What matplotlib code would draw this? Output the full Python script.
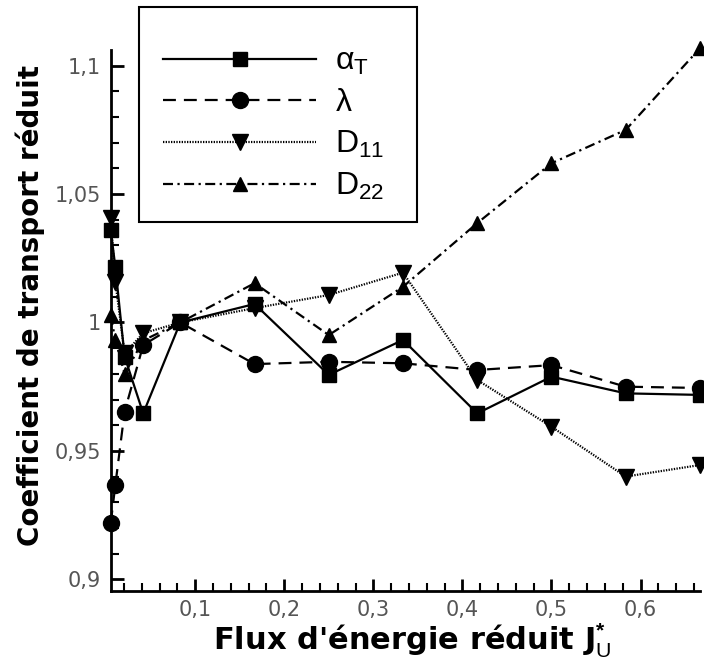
import matplotlib
matplotlib.use("Agg")
import matplotlib.pyplot as plt
from matplotlib.patches import Rectangle
from matplotlib.ticker import MultipleLocator, FuncFormatter, FixedLocator

plt.rcParams['font.family'] = ['Liberation Sans', 'DejaVu Sans']
plt.rcParams['mathtext.fontset'] = 'custom'
plt.rcParams['mathtext.rm'] = 'Liberation Sans'
plt.rcParams['mathtext.it'] = 'Liberation Sans:italic'
plt.rcParams['mathtext.bf'] = 'Liberation Sans:bold'

# Data
x = [0.0052, 0.0104, 0.0208, 0.0417, 0.0833, 0.1667, 0.25, 0.3333, 0.4167, 0.5, 0.5833, 0.6667]
alpha_T = [1.036, 1.0217, 0.9867, 0.9646, 1.0, 1.0072, 0.9796, 0.9932, 0.9646, 0.9789, 0.9724, 0.9718]
lam = [0.9218, 0.9367, 0.9653, 0.9912, 1.0, 0.9838, 0.9847, 0.9841, 0.9815, 0.9834, 0.9750, 0.9745]
D11 = [1.0406, 1.0159, 0.988, 0.9958, 1.0, 1.0056, 1.0107, 1.0194, 0.9776, 0.9594, 0.9400, 0.9445]
D22 = [1.0029, 0.9932, 0.9800, 0.9930, 1.0, 1.0153, 0.9951, 1.0139, 1.0387, 1.0620, 1.0750, 1.1068]
labels = [r'α$_{\mathrm{T}}$', 'λ', r'D$_{\mathrm{11}}$', r'D$_{\mathrm{22}}$']

W, H = 704, 664
fig = plt.figure(figsize=(W / 100, H / 100), dpi=100)
ax_l, ax_r, ax_t, ax_b = 110.7, 700.0, 50.0, 590.7
ax = fig.add_axes([ax_l / W, 1 - ax_b / H, (ax_r - ax_l) / W, (ax_b - ax_t) / H])

ms = 10
ax.plot(x, alpha_T, color='black', lw=1.6, ls='-', marker='s', ms=ms, clip_on=False, zorder=4, label=labels[0])
ax.plot(x, lam, color='black', lw=1.6, ls=(0, (5.8, 3.6)), marker='o', ms=ms + 1.5, clip_on=False, zorder=3, label=labels[1])
ax.plot(x, D11, color='black', lw=1.6, ls=(0, (0.6, 0.6)), marker='v', ms=ms + 1, clip_on=False, zorder=5, label=labels[2])
ax.plot(x, D22, color='black', lw=1.6, ls=(0, (4.5, 2, 1, 2)), marker='^', ms=ms, clip_on=False, zorder=6, label=labels[3])

ax.set_xlim(0.0052, 0.6667)
ax.set_ylim(0.89556, 1.1061)

for s in ['top', 'right']:
    ax.spines[s].set_visible(False)
for s in ['left', 'bottom']:
    ax.spines[s].set_linewidth(2.0)

ax.xaxis.set_major_locator(FixedLocator([0.1, 0.2, 0.3, 0.4, 0.5, 0.6]))
ax.xaxis.set_minor_locator(MultipleLocator(0.02))
ax.yaxis.set_major_locator(MultipleLocator(0.05))
ax.yaxis.set_minor_locator(MultipleLocator(0.01))

fmt = FuncFormatter(lambda v, p: ('%g' % round(v, 4)).replace('.', ','))
ax.xaxis.set_major_formatter(fmt)
ax.yaxis.set_major_formatter(fmt)

ax.tick_params(axis='both', which='major', direction='in', length=9, width=2,
               labelsize=15, labelcolor='#555555', labelfontfamily='DejaVu Sans', pad=7)
ax.tick_params(axis='both', which='minor', direction='in', length=5.5, width=1.5)
ax.tick_params(axis='x', which='both', top=False)
ax.tick_params(axis='y', which='both', right=False)

ax.set_xlabel(r"Flux d'énergie réduit J$_{\mathrm{U}}^{\mathbf{*}}$", fontsize=22,
              fontweight='bold', family='DejaVu Sans')
ax.xaxis.label.set_va('baseline')
ax.xaxis.set_label_coords((412 - ax_l) / (ax_r - ax_l), (ax_b - 650) / (ax_b - ax_t))
ax.set_ylabel("Coefficient de transport réduit", fontsize=20, fontweight='bold',
              family='DejaVu Sans')
ax.yaxis.label.set_va('baseline')
ax.yaxis.set_label_coords((39 - ax_l) / (ax_r - ax_l), (ax_b - 305) / (ax_b - ax_t))

box = Rectangle((139 / W, 1 - 222 / H), 278 / W, 215 / H, transform=fig.transFigure,
                facecolor='white', edgecolor='black', linewidth=1.5, zorder=9, clip_on=False)
ax.add_patch(box)
leg = ax.legend(loc='upper left', bbox_to_anchor=(139 / W, 1 - 23 / H),
                bbox_transform=fig.transFigure, fontsize=23, handlelength=4.8,
                handletextpad=0.6, labelspacing=0.34, borderpad=0.75, borderaxespad=0,
                frameon=False)
leg.set_zorder(10)

fig.savefig('out.png', dpi=100)
